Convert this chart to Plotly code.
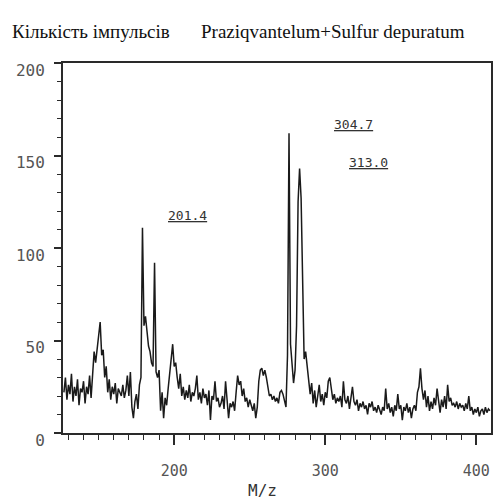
import plotly.graph_objects as go

title_left = "Кількість імпульсів"
title_right = "Praziqvantelum+Sulfur depuratum"
x_title = "M/z"
peak_labels = ["304.7", "313.0", "201.4"]
peak_label_x = [318.9, 328.8, 209.0]
peak_label_y = [166.8, 146.2, 117.6]

y_tickvals = [0, 50, 100, 150, 200]
x_tickvals = [200, 300, 400]

mz = [
    127, 128, 129, 130, 131, 132, 133, 134, 135, 136,
    137, 138, 139, 140, 141, 142, 143, 144, 145, 146,
    147, 148, 149, 150, 151, 152, 153, 154, 155, 156,
    157, 158, 159, 160, 161, 162, 163, 164, 165, 166,
    167, 168, 169, 170, 171, 172, 173, 174, 175, 176,
    177, 178, 179, 180, 181, 182, 183, 184, 185, 186,
    187, 188, 189, 190, 191, 192, 193, 194, 195, 196,
    197, 198, 199, 200, 201, 202, 203, 204, 205, 206,
    207, 208, 209, 210, 211, 212, 213, 214, 215, 216,
    217, 218, 219, 220, 221, 222, 223, 224, 225, 226,
    227, 228, 229, 230, 231, 232, 233, 234, 235, 236,
    237, 238, 239, 240, 241, 242, 243, 244, 245, 246,
    247, 248, 249, 250, 251, 252, 253, 254, 255, 256,
    257, 258, 259, 260, 261, 262, 263, 264, 265, 266,
    267, 268, 269, 270, 271, 272, 273, 274, 275, 276,
    277, 278, 279, 280, 281, 282, 283, 284, 285, 286,
    287, 288, 289, 290, 291, 292, 293, 294, 295, 296,
    297, 298, 299, 300, 301, 302, 303, 304, 305, 306,
    307, 308, 309, 310, 311, 312, 313, 314, 315, 316,
    317, 318, 319, 320, 321, 322, 323, 324, 325, 326,
    327, 328, 329, 330, 331, 332, 333, 334, 335, 336,
    337, 338, 339, 340, 341, 342, 343, 344, 345, 346,
    347, 348, 349, 350, 351, 352, 353, 354, 355, 356,
    357, 358, 359, 360, 361, 362, 363, 364, 365, 366,
    367, 368, 369, 370, 371, 372, 373, 374, 375, 376,
    377, 378, 379, 380, 381, 382, 383, 384, 385, 386,
    387, 388, 389, 390, 391, 392, 393, 394, 395, 396,
    397, 398, 399, 400, 401, 402, 403, 404, 405, 406,
    407, 408, 409,
]

counts = [
    22, 30, 18, 26, 21, 32, 17, 25, 20, 29,
    15, 24, 22, 28, 16, 25, 21, 31, 19, 30,
    44, 38, 46, 52, 60, 42, 45, 30, 36, 22,
    29, 18, 25, 21, 27, 16, 24, 22, 20, 26,
    19, 23, 31, 20, 33, 14, 8, 17, 21, 13,
    26, 30, 111, 58, 63, 55, 47, 44, 38, 36,
    92, 33, 30, 34, 12, 22, 8, 19, 15, 24,
    33, 42, 48, 36, 38, 30, 24, 32, 20, 25,
    18, 23, 19, 26, 17, 22, 20, 24, 31, 18,
    22, 16, 24, 19, 21, 15, 23, 7, 20, 18,
    28, 17, 19, 14, 16, 20, 13, 28, 15, 8,
    16, 14, 17, 12, 22, 31, 26, 28, 20, 24,
    17, 19, 14, 18, 15, 12, 16, 8, 14, 28,
    34, 35, 31, 34, 30, 26, 20, 21, 18, 20,
    17, 19, 16, 22, 23, 21, 18, 14, 42, 162,
    48, 38, 27, 34, 58, 125, 143, 127, 80, 40,
    44, 36, 30, 21, 27, 16, 23, 14, 20, 26,
    17, 21, 15, 22, 19, 28, 30, 24, 18, 21,
    16, 19, 17, 20, 14, 28, 18, 16, 20, 13,
    19, 25, 17, 15, 18, 12, 16, 14, 17, 13,
    15, 10, 16, 14, 17, 12, 14, 11, 15, 12,
    10, 14, 12, 24, 13, 16, 11, 14, 9, 15,
    12, 21, 13, 15, 7, 14, 12, 16, 11, 14,
    8, 13, 15, 12, 22, 25, 35, 24, 18, 23,
    14, 20, 12, 17, 13, 19, 15, 24, 16, 11,
    18, 14, 20, 13, 26, 17, 19, 15, 16, 14,
    17, 13, 16, 14, 15, 12, 16, 13, 20, 12,
    14, 10, 13, 11, 14, 9, 12, 13, 10, 14,
    11, 13, 12,
]

assert len(mz) == len(counts)

fig = go.Figure()
fig.add_trace(go.Scatter(
    x=mz, y=counts, mode="lines",
    line=dict(color="#1a1a1a", width=1.5),
    showlegend=False, hoverinfo="skip",
))

fig.update_layout(
    width=496, height=503,
    margin=dict(l=63, r=3, t=63, b=70),
    paper_bgcolor="white", plot_bgcolor="white",
    xaxis=dict(
        range=[126.4, 409.7], showgrid=False, zeroline=False,
        showline=True, linecolor="#2a2a2a", linewidth=2, mirror=True,
        tickmode="array", tickvals=x_tickvals,
        ticktext=[str(v) for v in x_tickvals],
        ticks="outside", ticklen=10, tickcolor="#2a2a2a", tickwidth=1.5,
        tickfont=dict(family="DejaVu Sans Mono", size=15, color="#555555"),
        ticklabelstandoff=13,
        minor=dict(dtick=10, tick0=0, ticks="outside", ticklen=5,
                   tickcolor="#2a2a2a", tickwidth=1.2),
    ),
    yaxis=dict(
        range=[0, 200], showgrid=False, zeroline=False,
        showline=True, linecolor="#2a2a2a", linewidth=2, mirror=True,
        tickmode="array", tickvals=y_tickvals,
        ticktext=[str(v) for v in y_tickvals],
        ticks="outside", ticklen=7, tickcolor="#2a2a2a", tickwidth=1.5,
        tickfont=dict(family="DejaVu Sans Mono", size=16, color="#555555"),
        ticklabelstandoff=6,
        ticklabelshift=7,
        minor=dict(dtick=10, tick0=0, ticks="outside", ticklen=4,
                   tickcolor="#2a2a2a", tickwidth=1.2),
    ),
)

annotations = [
    dict(text=title_left, xref="paper", yref="paper", x=-0.125, y=1.085,
         xanchor="left", yanchor="middle", showarrow=False,
         font=dict(family="Liberation Serif", size=19, color="#111111")),
    dict(text=title_right, xref="paper", yref="paper", x=0.318, y=1.085,
         xanchor="left", yanchor="middle", showarrow=False,
         font=dict(family="Liberation Serif", size=19, color="#111111")),
    dict(text=x_title, xref="paper", yref="paper", x=0.465, y=-0.155,
         xanchor="center", yanchor="middle", showarrow=False,
         font=dict(family="DejaVu Sans Mono", size=16, color="#333333")),
]
for t, xv, yv in zip(peak_labels, peak_label_x, peak_label_y):
    annotations.append(dict(
        text="<u>" + t + "</u>", x=xv, y=yv, xref="x", yref="y",
        showarrow=False, xanchor="center", yanchor="middle",
        font=dict(family="DejaVu Sans Mono", size=13, color="#333333"),
    ))
fig.update_layout(annotations=annotations)

fig.write_html("out.html")
